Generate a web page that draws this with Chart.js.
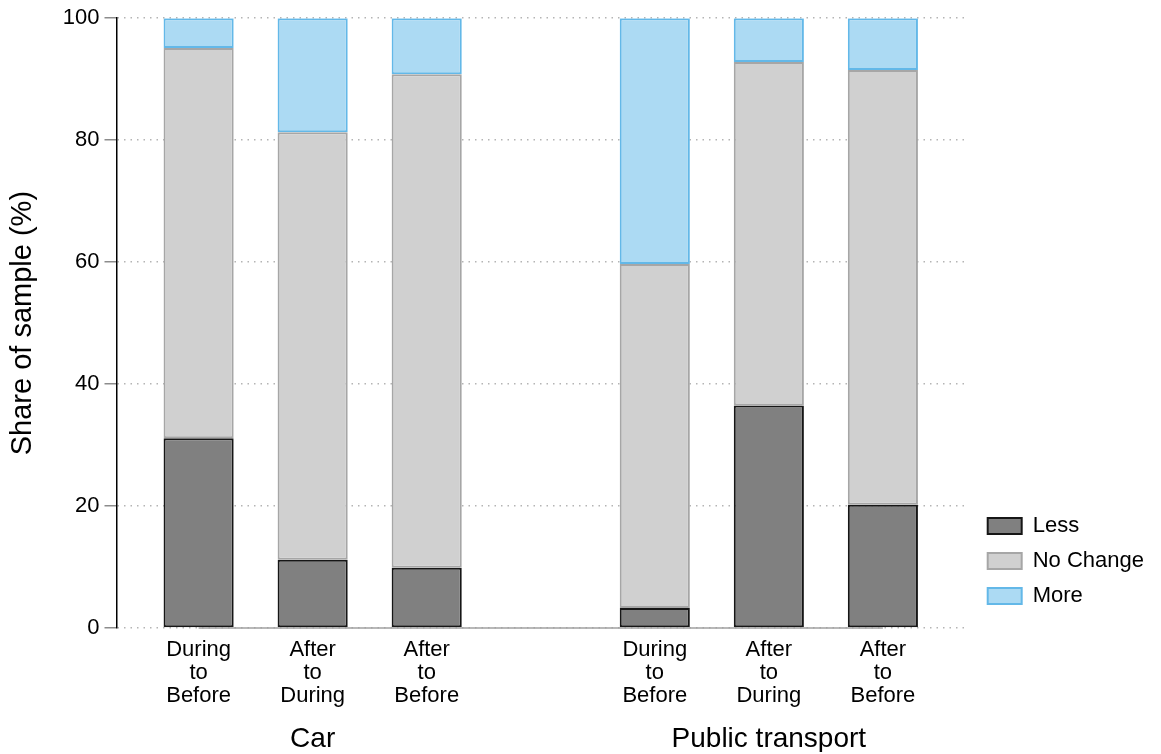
<!DOCTYPE html>
<html>
<head>
<meta charset="utf-8">
<script src="https://cdn.jsdelivr.net/npm/chart.js@4/dist/chart.umd.min.js"></script>
<style>
  html, body { margin: 0; padding: 0; background: #fff; }
  #wrap { width: 1161px; height: 754px; }
</style>
</head>
<body>
<div id="wrap"><canvas id="myChart"></canvas></div>
<script>
/* categories, one empty slot between the two groups */
var categories = [['During','to','Before'], ['After','to','During'], ['After','to','Before'], '',
                  ['During','to','Before'], ['After','to','During'], ['After','to','Before']];
var groups = ['Car', 'Public transport'];
var groupAt = [1, 5];

var less     = [31.1, 11.2,  9.9, null,  3.3, 36.5, 20.2];
var noChange = [64.0, 70.1, 80.9, null, 56.4, 56.3, 71.3];
var more     = [ 4.9, 18.7,  9.2, null, 40.3,  7.2,  8.5];

var yTicks = [0, 20, 40, 60, 80, 100];

function pts(arr) {
    return arr.map(function(v, i){ return {x: i, y: v}; })
              .filter(function(p){ return p.y !== null; });
}

var font = "'Liberation Sans', Arial, Helvetica, sans-serif";
Chart.defaults.font.family = font;
Chart.defaults.color = '#000';

var xMin = -0.72, xMax = 6.735;

// gray base line running from first to last bar, like the original
var baseLine = {
    id: 'baseLine',
    afterDatasetsDraw: function(chart){
        var x = chart.scales.x, y = chart.scales.y, c = chart.ctx;
        c.save();
        c.strokeStyle = '#a0a0a0';
        c.lineWidth = 1.5;
        c.beginPath();
        c.moveTo(x.getPixelForValue(0), y.getPixelForValue(0));
        c.lineTo(x.getPixelForValue(categories.length - 1), y.getPixelForValue(0));
        c.stroke();
        c.restore();
    }
};

// nudge the legend a bit (right and up) after layout
var legendNudge = {
    id: 'legendNudge',
    afterLayout: function(chart){
        var l = chart.legend;
        l.left += 8; l.right += 8;
        l.top -= 8; l.bottom -= 8;
    }
};

var ctx = document.getElementById('myChart').getContext('2d');
var chart = new Chart(ctx, {
    type: 'bar',
    data: {
        datasets: [{
            label: 'Less',
            data: pts(less),
            backgroundColor: '#808080',
            borderColor: '#161616',
            borderWidth: 2
        }, {
            label: 'No Change',
            data: pts(noChange),
            backgroundColor: '#d0d0d0',
            borderColor: '#a6a6a6',
            borderWidth: 2
        }, {
            label: 'More',
            data: pts(more),
            backgroundColor: '#acdaf3',
            borderColor: '#63b8e8',
            borderWidth: 2
        }]
    },
    options: {
        responsive: true,
        maintainAspectRatio: false,
        animation: false,
        events: [],
        datasets: { bar: { barPercentage: 0.615, categoryPercentage: 1, borderSkipped: false } },
        layout: { padding: { top: 8, right: 15, bottom: 2, left: 4 } },
        plugins: {
            legend: {
                position: 'right',
                align: 'end',
                fullSize: false,
                labels: {
                    boxWidth: 34,
                    boxHeight: 16,
                    padding: 13,
                    font: { size: 22 },
                    color: '#000'
                }
            },
            tooltip: { enabled: false }
        },
        scales: {
            x: {
                type: 'linear',
                stacked: true,
                offset: false,
                min: xMin,
                max: xMax,
                afterBuildTicks: function(s){
                    s.ticks = [];
                    categories.forEach(function(c, i){ if (c !== '') s.ticks.push({value: i}); });
                },
                afterFit: function(s){ s.height = 79; },
                ticks: {
                    font: { size: 22, lineHeight: 1.05 },
                    color: '#000',
                    maxRotation: 0,
                    autoSkip: false,
                    padding: 10,
                    callback: function(v){ return categories[v]; }
                },
                grid: { display: false, drawTicks: false },
                border: { display: false }
            },
            x2: {
                type: 'linear',
                position: 'bottom',
                offset: false,
                min: xMin,
                max: xMax,
                afterBuildTicks: function(s){
                    s.ticks = groupAt.map(function(v){ return {value: v}; });
                },
                afterFit: function(s){ s.height = 45; },
                ticks: {
                    font: { size: 28, lineHeight: 1.0 },
                    color: '#000',
                    maxRotation: 0,
                    autoSkip: false,
                    padding: 18,
                    callback: function(v){ return groups[groupAt.indexOf(v)]; }
                },
                grid: { display: false, drawTicks: false },
                border: { display: false }
            },
            y: {
                stacked: true,
                min: 0,
                max: 100,
                afterBuildTicks: function(s){
                    s.ticks = yTicks.map(function(v){ return {value: v}; });
                },
                ticks: { font: { size: 22 }, color: '#000', padding: 5 },
                grid: {
                    color: '#b4b4b4',
                    lineWidth: 1.5,
                    tickColor: '#8c8c8c',
                    tickLength: 12
                },
                border: { display: true, color: '#000', width: 1.5, dash: [1.5, 5] },
                title: {
                    display: true,
                    text: 'Share of sample (%)',
                    font: { size: 29 },
                    color: '#000',
                    padding: { top: 2, bottom: 17 }
                }
            }
        }
    },
    plugins: [baseLine, legendNudge]
});
</script>
</body>
</html>
